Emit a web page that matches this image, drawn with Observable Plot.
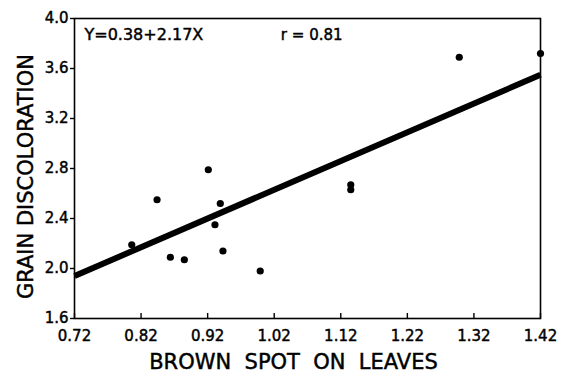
<!DOCTYPE html>
<html>
<head>
<meta charset="utf-8">
<script src="https://cdn.jsdelivr.net/npm/d3@7"></script>
<script src="https://cdn.jsdelivr.net/npm/@observablehq/plot@0.6"></script>
<style>
  html, body { margin: 0; padding: 0; background: #fff; }
  svg { display: block; }
  svg text { stroke: #000; stroke-width: 0.45px; paint-order: fill; }
</style>
</head>
<body>
<div id="chart"></div>
<script>
// Brown spot on leaves (x) vs grain discoloration (y)
const spotX  = [0.806, 0.844, 0.864, 0.885, 0.921, 0.931, 0.939, 0.943, 0.999, 1.135, 1.135, 1.298, 1.420];
const grainY = [2.19, 2.55, 2.09, 2.07, 2.79, 2.35, 2.52, 2.14, 1.98, 2.67, 2.63, 3.69, 3.72];

// Fitted regression line as drawn
const fitX = [0.72, 1.42];
const fitY = [1.94, 3.55];

const xTicks = [0.72, 0.82, 0.92, 1.02, 1.12, 1.22, 1.32, 1.42];
const yTicks = [1.6, 2.0, 2.4, 2.8, 3.2, 3.6, 4.0];

const equationText = "Y=0.38+2.17X";
const rText = "r = 0.81";
const xTitle = "BROWN  SPOT  ON  LEAVES";
const yTitle = "GRAIN DISCOLORATION";

const points = spotX.map((x, i) => ({x, y: grainY[i]}));
const fit = fitX.map((x, i) => ({x, y: fitY[i]}));

const font = "DejaVu Sans, Liberation Sans, sans-serif";

const chart = Plot.plot({
  width: 566,
  height: 380,
  marginLeft: 74,
  marginRight: 26,
  marginTop: 18,
  marginBottom: 62,
  style: {fontFamily: font, fontSize: "15px", color: "#000", background: "#fff"},
  x: {domain: [0.72, 1.42], ticks: xTicks, tickFormat: d3.format(".2f")},
  y: {domain: [1.6, 4.0], ticks: yTicks, tickFormat: d3.format(".1f")},
  marks: [
    Plot.frame({stroke: "#000", strokeWidth: 1.6}),
    Plot.axisX({ticks: xTicks, tickFormat: d3.format(".2f"), tickSize: -5, tickPadding: 17, label: null, fontSize: 15, strokeWidth: 1.4}),
    Plot.axisY({ticks: yTicks, tickFormat: d3.format(".1f"), tickSize: 4, tickPadding: 2, label: null, fontSize: 15, strokeWidth: 1.4}),
    Plot.line(fit, {x: "x", y: "y", stroke: "#000", strokeWidth: 6, strokeLinecap: "butt"}),
    Plot.dot(points, {x: "x", y: "y", r: 3.6, fill: "#000", stroke: "none"}),
    Plot.text([equationText], {x: 0.735, y: 3.87, text: d => d, textAnchor: "start", fontSize: 16, fill: "#000"}),
    Plot.text([rText], {x: 1.03, y: 3.87, text: d => d, textAnchor: "start", fontSize: 15, fill: "#000"}),
    Plot.text([xTitle], {frameAnchor: "bottom", dx: -14, dy: 50, text: d => d, textAnchor: "middle", fontSize: 21, fill: "#000", letterSpacing: "2.5px"}),
    Plot.text([yTitle], {frameAnchor: "left", dx: -48, dy: 8, rotate: -90, text: d => d, textAnchor: "middle", fontSize: 21, fill: "#000", letterSpacing: "1.8px"})
  ]
});

document.getElementById("chart").appendChild(chart);
</script>
</body>
</html>
